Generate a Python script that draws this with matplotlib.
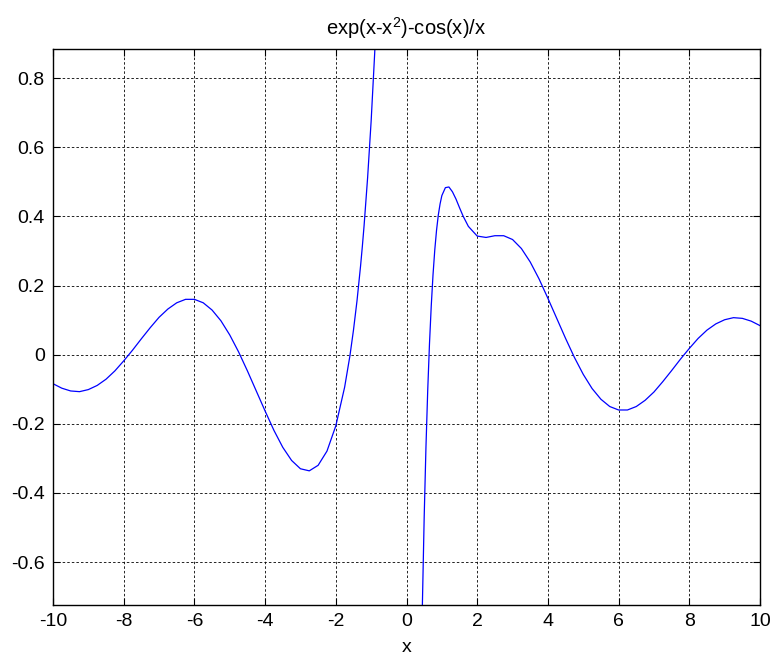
import numpy as np
import matplotlib
matplotlib.use("Agg")
import matplotlib.pyplot as plt

plt.rcParams['font.family'] = ['Liberation Sans', 'DejaVu Sans']
plt.rcParams['mathtext.default'] = 'regular'

# values (left branch, x < 0)
x_left = [-10, -9.75, -9.5, -9.25, -9, -8.75, -8.5, -8.25, -8, -7.75, -7.5, -7.25,
          -7, -6.75, -6.5, -6.25, -6, -5.75, -5.5, -5.25, -5, -4.75, -4.5, -4.25,
          -4, -3.75, -3.5, -3.25, -3, -2.75, -2.5, -2.25, -2, -1.75, -1.6, -1.5,
          -1.4, -1.3, -1.25, -1.2, -1.1, -1.0, -0.9, -0.85]
y_left = [-0.084, -0.097, -0.105, -0.107, -0.101, -0.089, -0.071, -0.047, -0.018,
          0.013, 0.046, 0.078, 0.108, 0.132, 0.150, 0.160, 0.160, 0.150, 0.129,
          0.098, 0.057, 0.008, -0.047, -0.105, -0.163, -0.219, -0.268, -0.306,
          -0.330, -0.336, -0.320, -0.279, -0.206, -0.094, -0.003, 0.071,
          0.156, 0.256, 0.312, 0.373, 0.512, 0.676, 0.872, 0.984]

# right branch, x > 0
x_right = [0.4, 0.45, 0.5, 0.55, 0.6, 0.65, 0.7, 0.75, 0.8, 0.85, 0.9, 0.95, 1.0,
           1.1, 1.2, 1.3, 1.4, 1.5, 1.6, 1.75, 2.0, 2.25, 2.5, 2.75, 3.0, 3.25,
           3.5, 3.75, 4.0, 4.25, 4.5, 4.75, 5.0, 5.25, 5.5, 5.75, 6.0, 6.25, 6.5,
           6.75, 7.0, 7.25, 7.5, 7.75, 8.0, 8.25, 8.5, 8.75, 9.0, 9.25, 9.5,
           9.75, 10]
y_right = [-1.032, -0.720, -0.471, -0.269, -0.104, 0.031, 0.141, 0.231, 0.303,
           0.360, 0.404, 0.436, 0.460, 0.483, 0.485, 0.471, 0.450, 0.425, 0.401,
           0.371, 0.343, 0.339, 0.344, 0.344, 0.333, 0.307, 0.268, 0.219, 0.163,
           0.105, 0.047, -0.008, -0.057, -0.098, -0.129, -0.150, -0.160, -0.160,
           -0.150, -0.132, -0.108, -0.078, -0.046, -0.013, 0.018, 0.047, 0.071,
           0.089, 0.101, 0.107, 0.105, 0.097, 0.084]

xticks = [-10, -8, -6, -4, -2, 0, 2, 4, 6, 8, 10]
yticks = [-0.6, -0.4, -0.2, 0, 0.2, 0.4, 0.6, 0.8]
ytick_labels = ['-0.6', '-0.4', '-0.2', '0', '0.2', '0.4', '0.6', '0.8']

fig = plt.figure(figsize=(7.73, 6.58), dpi=100)
ax = fig.add_axes([53 / 773, 1 - 605 / 658, 707 / 773, 556 / 658])

ax.plot(x_left, y_left, color='blue', lw=0.9)
ax.plot(x_right, y_right, color='blue', lw=0.9)

ax.set_xlim(-10, 10)
ax.set_ylim(-0.724, 0.884)
ax.set_xticks(xticks)
ax.set_xticklabels([str(t) for t in xticks])
ax.set_yticks(yticks)
ax.set_yticklabels(ytick_labels)

ax.grid(True, color='black', linestyle=(0, (3, 2.5)), linewidth=0.6)
ax.tick_params(direction='in', top=True, right=True, length=5, width=0.8,
               labelsize=14, pad=6)
for s in ax.spines.values():
    s.set_linewidth(1.0)

ax.set_title('exp(x-x$^{2}$)-cos(x)/x', fontsize=14.5, pad=10)
ax.set_xlabel('x', fontsize=14, labelpad=6.5)

fig.savefig('out.png', dpi=100)
